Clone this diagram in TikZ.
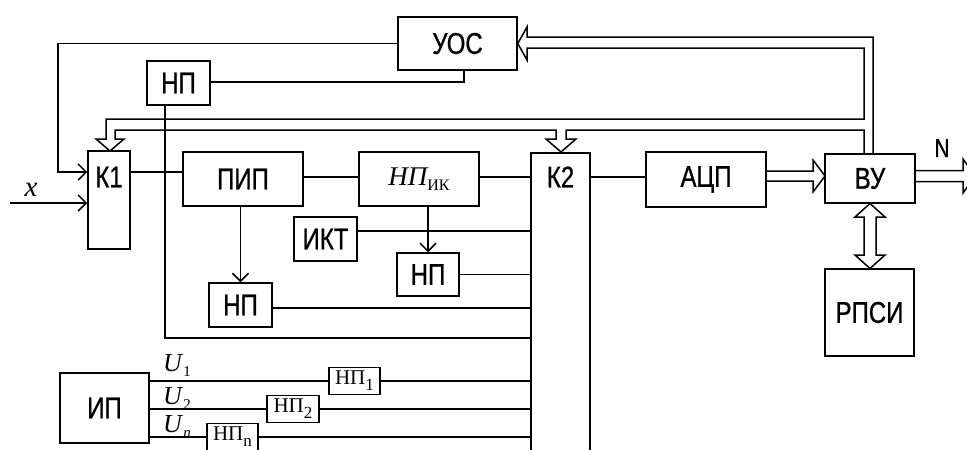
\documentclass[tikz,border=0pt]{standalone}
\usepackage{fontspec}
\setmainfont{Liberation Sans}
\newfontfamily\arn{Liberation Sans}[FakeStretch=0.8,FakeBold=0.8]
\newfontfamily\tms{Liberation Serif}
\usetikzlibrary{arrows.meta}
\begin{document}
\begin{tikzpicture}[x=1pt,y=-1pt,line width=1.5pt,line join=miter,
  box/.style={draw,line width=1.5pt,inner sep=0pt,font=\arn\fontsize{30}{34}\selectfont},
  sbox/.style={draw,line width=1.5pt,inner sep=0pt,minimum width=51pt,minimum height=27pt,font=\tms\fontsize{21}{22}\selectfont},
  txt/.style={inner sep=0pt,font=\arn\fontsize{30}{34}\selectfont},
  arr/.style={-{Straight Barb[length=8pt,width=16pt]}}]
\clip (0,0) rectangle (967,450);
\fill[white] (0,0) rectangle (967,450);
% blocks
\node[box,minimum width=119pt,minimum height=53pt] (uos) at (457.5,43.5) {УОС};
\node[box,minimum width=63pt,minimum height=44pt] (npt) at (178.5,83) {НП};
\node[box,minimum width=42pt,minimum height=98pt] (k1) at (109,200) {};
\node[txt] (k1t) at (109,177) {К1};
\node[box,minimum width=120pt,minimum height=54pt] (pip) at (243,179) {ПИП};
\node[box,minimum width=120pt,minimum height=54pt] (npik) at (419,179) {\tms\itshape\fontsize{27}{28}\selectfont НП\raisebox{-5pt}{\upshape\fontsize{16}{16}\selectfont ИК}};
\node[box,minimum width=59pt,minimum height=320pt,anchor=north] (k2) at (560.5,152) {};
\node[txt] (k2t) at (560.5,177) {К2};
\node[box,minimum width=120pt,minimum height=55pt] (adc) at (706,179.5) {АЦП};
\node[box,minimum width=90pt,minimum height=49pt] (vu) at (870,178.5) {ВУ};
\node[box,minimum width=89pt,minimum height=87pt] (rpsi) at (869.5,312.5) {РПСИ};
\node[box,minimum width=63pt,minimum height=44pt] (ikt) at (325.5,239) {ИКТ};
\node[box,minimum width=62pt,minimum height=43pt] (npm) at (428,274.5) {НП};
\node[box,minimum width=63pt,minimum height=44pt] (npl) at (240.5,305) {НП};
\node[box,minimum width=89pt,minimum height=70pt] (ip) at (104.5,408) {ИП};
\node[sbox] (np1) at (354.5,381) {НП\raisebox{-6pt}{\fontsize{17}{17}\selectfont 1}};
\node[sbox,minimum width=52pt] (np2) at (293,409) {НП\raisebox{-6pt}{\fontsize{17}{17}\selectfont 2}};
\node[sbox] (npn) at (232.5,437) {НП\raisebox{-6pt}{\fontsize{17}{17}\selectfont n}};
% labels
\node[inner sep=0pt] (xl) at (31,190) {\tms\itshape\fontsize{29}{30}\selectfont x};
\node[inner sep=0pt] (u1) at (177,365) {\tms\fontsize{26}{28}\selectfont\textit{U}\raisebox{-5pt}{\fontsize{15}{15}\selectfont 1}};
\node[inner sep=0pt] (u2) at (177,398) {\tms\fontsize{26}{28}\selectfont\textit{U}\raisebox{-5pt}{\fontsize{15}{15}\selectfont 2}};
\node[inner sep=0pt] (un) at (177,426) {\tms\fontsize{26}{28}\selectfont\textit{U}\raisebox{-5pt}{\fontsize{15}{15}\selectfont\itshape n}};
\node[txt,font=\arn\fontsize{26}{28}\selectfont] (nl) at (942,148) {N};
% connectors
\coordinate (fbc) at (58,172);
\draw[arr] (uos.west) -| (fbc) -- (k1.west |- fbc);
\coordinate (xin) at (10,203);
\draw[arr] (xin) -- (k1.west |- xin);
\draw (k1.east |- fbc) -- (pip.west |- fbc);
\coordinate (r1) at (0,177);
\draw (pip.east |- r1) -- (npik.west |- r1);
\draw (npik.east |- r1) -- (k2.west |- r1);
\draw (k2.east |- r1) -- (adc.west |- r1);
\draw[arr] (pip.south -| npl.north) -- (npl.north);
\draw[arr] (npik.south -| npm.north) -- (npm.north);
\coordinate (rikt) at (0,231);
\draw (ikt.east |- rikt) -- (k2.west |- rikt);
\draw (npm.east) -- (k2.west |- npm.east);
\coordinate (rnpl) at (0,308);
\draw (npl.east |- rnpl) -- (k2.west |- rnpl);
\coordinate (loopc) at (165,338);
\draw (npt.south -| loopc) -- (loopc) -- (k2.west |- loopc);
\coordinate (ntc) at (464,82);
\draw (npt.east |- ntc) -- (ntc) -- (uos.south -| ntc);
\draw (ip.east |- np1.west) -- (np1.west);
\draw (np1.east) -- (k2.west |- np1.east);
\draw (ip.east |- np2.west) -- (np2.west);
\draw (np2.east) -- (k2.west |- np2.east);
\draw (ip.east |- npn.west) -- (npn.west);
\draw (npn.east) -- (k2.west |- npn.east);
% buses (hollow arrows)
\draw (873,153.5) -- (873,37) -- (527,37) -- (527,27) -- (uos.east) -- (527,60) -- (527,48) -- (864,48) -- (864,119)
  -- (106,119) -- (106,139) -- (96,139) -- (110,151) -- (124,139) -- (115,139) -- (115,130)
  -- (556,130) -- (556,139) -- (546,139) -- (561,152) -- (576,139) -- (566,139) -- (566,130)
  -- (864,130) -- (864,153.5);
\draw (766,171) -- (813,171) -- (813,160) -- (825,176) -- (813,192) -- (813,181) -- (766,181);
\draw (915,170.5) -- (963,170.5) -- (963,159) -- (975,176) -- (963,193) -- (963,181.5) -- (915,181.5);
\draw (870,203.5) -- (885,217) -- (876,217) -- (876,255) -- (885,255) -- (870,268.5) -- (855,255) -- (864,255) -- (864,217) -- (855,217) -- cycle;
\end{tikzpicture}
\end{document}
